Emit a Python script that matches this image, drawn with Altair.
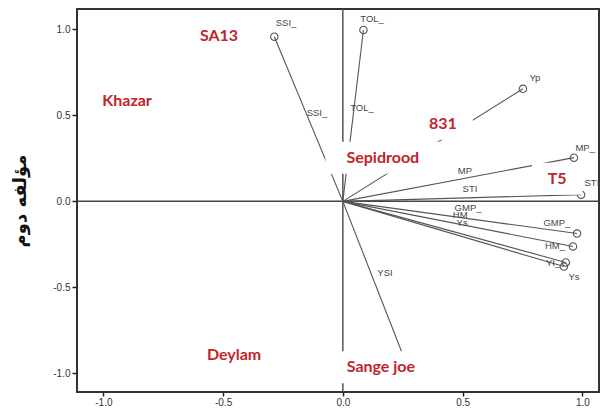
import altair as alt
import pandas as pd

# Component loadings (first, second component)
variables = ["SSI_", "TOL_", "Yp", "MP_", "STI", "GMP_", "HM_", "YI_", "Ys", "YSI"]
load1 = [-0.286, 0.086, 0.752, 0.965, 0.995, 0.978, 0.961, 0.931, 0.923, 0.267]
load2 = [0.957, 0.996, 0.654, 0.254, 0.039, -0.187, -0.262, -0.355, -0.379, -0.95]

# labels near the vector tips
tip_text = ["SSI_", "TOL_", "Yp", "MP_", "STI", "GMP_", "HM_", "YI_", "Ys"]
tip_x = [-0.237, 0.122, 0.802, 1.012, 1.040, 0.894, 0.886, 0.878, 0.965]
tip_y = [1.036, 1.060, 0.718, 0.312, 0.109, -0.123, -0.262, -0.361, -0.442]

# labels along the vectors
mid_text = ["SSI_", "TOL_", "MP", "STI", "GMP_", "HM", "Ys", "YSI"]
mid_x = [-0.108, 0.080, 0.510, 0.531, 0.523, 0.490, 0.498, 0.176]
mid_y = [0.515, 0.544, 0.179, 0.074, -0.036, -0.082, -0.123, -0.419]

# genotype names
genotypes = ["SA13", "Khazar", "831", "Sepidrood", "T5", "Deylam", "Sange joe"]
geno_x = [-0.517, -0.901, 0.418, 0.167, 0.895, -0.454, 0.159]
geno_y = [0.961, 0.584, 0.451, 0.254, 0.132, -0.894, -0.964]

tick_vals = [-1.0, -0.5, 0.0, 0.5, 1.0]

W, H = 522, 383
x_dom = [-1.11, 1.0696]
y_dom = [-1.108, 1.118]
px_x = W / (x_dom[1] - x_dom[0])
px_y = H / (y_dom[1] - y_dom[0])

vec = pd.DataFrame({"var": variables, "c1": load1, "c2": load2})
vec["o1"] = 0.0
vec["o2"] = 0.0
tips = pd.DataFrame({"t": tip_text, "x": tip_x, "y": tip_y})
mids = pd.DataFrame({"t": mid_text, "x": mid_x, "y": mid_y})
geno = pd.DataFrame({"g": genotypes, "x": geno_x, "y": geno_y})
hw = (geno["g"].str.len() * 4.6 + 16) / px_x
hh = 16 / px_y
geno["x1"] = geno["x"] - hw
geno["x2"] = geno["x"] + hw
geno["y1"] = geno["y"] - hh
geno["y2"] = geno["y"] + hh

xs = alt.Scale(domain=x_dom, nice=False, zero=False)
ys = alt.Scale(domain=y_dom, nice=False, zero=False)

lab_expr = "replace(format(datum.value, '.1f'), '\u2212', '-')"

x_axis = alt.Axis(values=tick_vals, labelExpr=lab_expr, grid=False, domain=False,
                  tickColor="#222", tickSize=4, tickWidth=1.5, labelColor="#333",
                  labelFont="Liberation Sans", labelFontSize=10, labelPadding=1, title=None)
y_axis = alt.Axis(values=tick_vals, labelExpr=lab_expr, grid=False, domain=False,
                  tickColor="#222", tickSize=5, tickWidth=1.5, labelColor="#333",
                  labelFont="Liberation Sans", labelFontSize=10, labelPadding=2,
                  title="مؤلفه دوم", titleFont="DejaVu Sans", titleFontSize=18,
                  titleFontWeight="bold", titleColor="#111", titleAngle=270,
                  titleX=-57, titleY=H / 2, titleAlign="center", titleBaseline="middle")

zero_v = alt.Chart(pd.DataFrame({"v": [0.0]})).mark_rule(color="#555", strokeWidth=1.5).encode(
    x=alt.X("v:Q", scale=xs, axis=x_axis))
zero_h = alt.Chart(pd.DataFrame({"v": [0.0]})).mark_rule(color="#444", strokeWidth=1.5).encode(
    y=alt.Y("v:Q", scale=ys, axis=y_axis))

lines = alt.Chart(vec).mark_rule(color="#555", strokeWidth=1.1).encode(
    x=alt.X("o1:Q", scale=xs), y=alt.Y("o2:Q", scale=ys), x2="c1:Q", y2="c2:Q")

circles = alt.Chart(vec).mark_point(shape="circle", filled=False, size=55,
                                    color="#555", strokeWidth=1.1, opacity=1).encode(
    x=alt.X("c1:Q", scale=xs), y=alt.Y("c2:Q", scale=ys))

tip_labels = alt.Chart(tips).mark_text(font="Liberation Sans", fontSize=9.5, color="#444",
                                       align="center", baseline="middle").encode(
    x=alt.X("x:Q", scale=xs), y=alt.Y("y:Q", scale=ys), text="t:N")

mid_labels = alt.Chart(mids).mark_text(font="Liberation Sans", fontSize=9.5, color="#444",
                                       align="center", baseline="middle").encode(
    x=alt.X("x:Q", scale=xs), y=alt.Y("y:Q", scale=ys), text="t:N")

boxes = alt.Chart(geno).mark_rect(color="white", opacity=1).encode(
    x=alt.X("x1:Q", scale=xs), x2="x2:Q", y=alt.Y("y1:Q", scale=ys), y2="y2:Q")

geno_labels = alt.Chart(geno).mark_text(font="Lato", fontSize=16, fontWeight="bold",
                                        color="#C0252B", align="center",
                                        baseline="middle").encode(
    x=alt.X("x:Q", scale=xs), y=alt.Y("y:Q", scale=ys), text="g:N")

chart = alt.layer(zero_v, zero_h, lines, circles, tip_labels, mid_labels, boxes, geno_labels).properties(
    width=W, height=H,
    autosize=alt.AutoSizeParams(type="none"),
    padding={"left": 69, "top": 1, "right": 1, "bottom": 14},
    background="white",
).configure_view(stroke="#333", strokeWidth=2)

chart.save("out.html", embed_options={"renderer": "svg", "actions": False})
